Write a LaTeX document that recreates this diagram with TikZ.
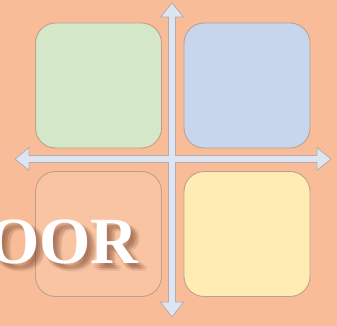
\documentclass[tikz,border=0pt]{standalone}
\usepackage{fontspec}
\setmainfont{Liberation Serif}
\definecolor{bgc}{RGB}{248,189,152}
\definecolor{greenc}{RGB}{213,231,201}
\definecolor{bluec}{RGB}{199,214,236}
\definecolor{peachc}{RGB}{249,196,162}
\definecolor{yellowc}{RGB}{255,236,178}
\definecolor{edgec}{RGB}{190,160,140}
\definecolor{arrowc}{RGB}{221,229,242}
\definecolor{arrowedge}{RGB}{185,170,172}
\definecolor{shadowc}{RGB}{110,60,40}
\tikzset{
  box/.style={draw=edgec, line width=0.9pt, rounded corners=20pt, minimum width=126pt, minimum height=125pt, inner sep=0pt},
  arrowshape/.style={fill=arrowc, draw=arrowedge, line width=0.8pt, line join=miter},
  bigtext/.style={font=\fontsize{66}{66}\selectfont\bfseries, inner sep=0pt, anchor=base west}
}
\begin{document}
\begin{tikzpicture}[x=1pt,y=-1pt]
\useasboundingbox (0,0) rectangle (337,326);
\fill[bgc] (0,0) rectangle (337,326);
\node[box, fill=greenc] (q1) at (98.5,85.5) {};
\node[box, fill=bluec] (q2) at (247,85.5) {};
\node[box, fill=peachc] (q3) at (98.5,234) {};
\node[box, fill=yellowc] (q4) at (247,234) {};
% arrows
\coordinate (ctr) at (172,159);
\draw[arrowshape] (172,3) -- (183.5,17) -- (175.5,17) -- (175.5,155.5) -- (317,155.5) -- (317,147.5) -- (331,159) -- (317,170.5) -- (317,162.5) -- (175.5,162.5) -- (175.5,302) -- (183.5,302) -- (172,317) -- (160.5,302) -- (168.5,302) -- (168.5,162.5) -- (29,162.5) -- (29,170.5) -- (15,159) -- (29,147.5) -- (29,155.5) -- (168.5,155.5) -- (168.5,17) -- (160.5,17) -- cycle;
% text with shadow
\begin{scope}
\clip (0,0) rectangle (337,326);
\foreach \dx/\dy in {3/3,5/5,7/6,4/7,6/3,8/8,2/5,9/5}{
  \node[bigtext, text=shadowc, opacity=0.09] at (-12+\dx,263+\dy) {OOR};
}
\node[bigtext, text=white] (title) at (-12,263) {OOR};
\end{scope}
\end{tikzpicture}
\end{document}
